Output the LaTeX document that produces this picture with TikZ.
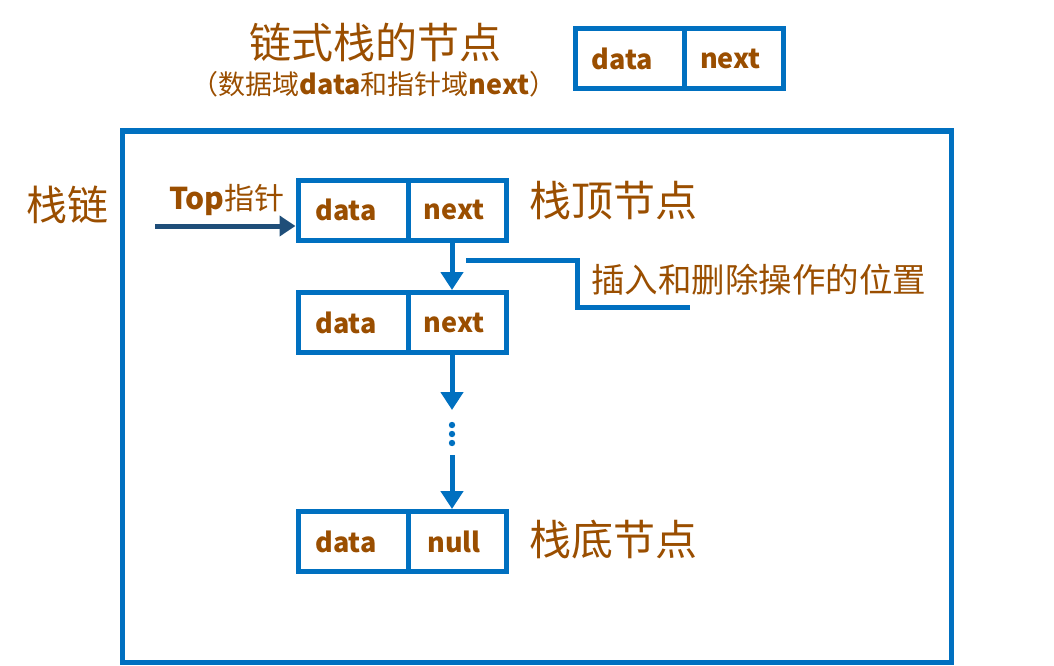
\documentclass[tikz,border=0pt]{standalone}
\usepackage{fontspec}
\setmainfont{Noto Sans CJK SC}
\usetikzlibrary{arrows.meta}
\definecolor{txtbrown}{HTML}{9A4E00}
\definecolor{boxblue}{HTML}{0070C0}
\definecolor{darkblue}{HTML}{1F4E79}
\tikzset{
  cell/.style={draw=boxblue, line width=5pt, minimum height=60pt, inner sep=0pt,
    text=txtbrown, font=\fontsize{27}{30}\selectfont\bfseries},
  datacell/.style={cell, minimum width=110pt, execute at end node={\hspace{14pt}}},
  ptrcell/.style={cell, minimum width=98pt, execute at end node={\hspace{6pt}}},
  lbl/.style={text=txtbrown, inner sep=0pt},
  link/.style={draw=boxblue, line width=5pt, -{Triangle[width=22pt,length=18pt]}},
}
\begin{document}
\begin{tikzpicture}[x=1pt,y=-1pt]
\useasboundingbox (0,0) rectangle (1054,666);
% frame
\draw[boxblue, line width=5pt] (122,131) rectangle (951,662);
% title
\node[lbl, font=\fontsize{42}{46}\selectfont] (title) at (375,42) {链式栈的节点};
\node[lbl, font=\fontsize{27}{30}\selectfont] (sub) at (374,84) {（数据域\textbf{data}和指针域\textbf{next}）};
% legend node
\node[datacell, minimum width=109pt] (ta) at (629.5,58.5) {data};
\node[ptrcell, minimum width=99pt] (tb) at (733.5,58.5) {next};
% labels
\node[lbl, font=\fontsize{41}{44}\selectfont] (lian) at (68,205) {栈链};
\node[lbl, font=\fontsize{30}{33}\selectfont, anchor=west] (top) at (169,200) {\textbf{Top}指针};
% stack nodes
\node[datacell] (n1a) at (353,210) {data};
\node[ptrcell] (n1b) at (457,210) {next};
\node[datacell] (n2a) at (353,322.5) {data};
\node[ptrcell] (n2b) at (457,322.5) {next};
\node[datacell] (n3a) at (353,541.5) {data};
\node[ptrcell] (n3b) at (457,541.5) {null};
\node[lbl, font=\fontsize{42}{46}\selectfont, anchor=west] (topl) at (529,201) {栈顶节点};
\node[lbl, font=\fontsize{42}{46}\selectfont, anchor=west] (botl) at (529,540) {栈底节点};
\node[lbl, font=\fontsize{33.5}{36}\selectfont, anchor=west] (pos) at (591,280) {插入和删除操作的位置};
% top pointer
\coordinate (ts) at (155,226);
\draw[darkblue, line width=5pt, -{Triangle[width=20pt,length=16pt]}] (ts) -- (n1a.west |- ts);
% links
\draw[link] ([xshift=-5pt]n1b.south) -- ([xshift=-5pt]n2b.north);
\coordinate (d1) at (452,410);
\coordinate (d2) at (452,455);
\draw[link] ([xshift=-5pt]n2b.south) -- (d1);
\draw[link] (d2) -- ([xshift=-5pt]n3b.north);
\foreach \yy in {425,434,443} \fill[boxblue] (452,\yy) circle (3.2pt);
% callout
\coordinate (c0) at (466,260);
\coordinate (c1) at (690,307);
\draw[boxblue, line width=5pt] (c0) -- (577,260) -- (577,307) -- (c1);
\end{tikzpicture}
\end{document}
